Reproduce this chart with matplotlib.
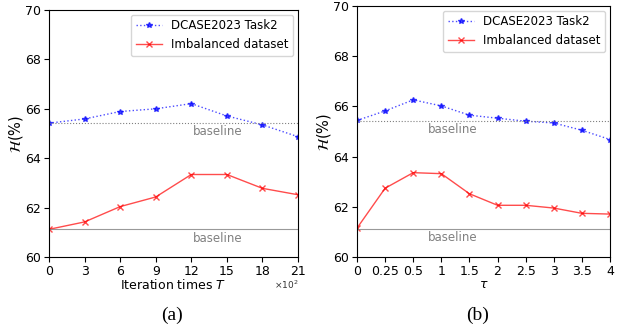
import numpy as np
import matplotlib
matplotlib.use("Agg")
import matplotlib.pyplot as plt

# (a) iteration times T (x100)
iters = [0, 3, 6, 9, 12, 15, 18, 21]
dcase_a = [65.42, 65.59, 65.89, 66.0, 66.21, 65.71, 65.35, 64.87]
imb_a = [61.12, 61.42, 62.04, 62.43, 63.34, 63.34, 62.78, 62.52]

# (b) tau (evenly spaced categories)
tau_labels = ["0", "0.25", "0.5", "1", "1.5", "2", "2.5", "3", "3.5", "4"]
dcase_b = [65.44, 65.82, 66.26, 66.02, 65.65, 65.53, 65.41, 65.34, 65.05, 64.68]
imb_b = [61.15, 62.74, 63.36, 63.32, 62.52, 62.06, 62.06, 61.95, 61.74, 61.71]

base_dcase = 65.43
base_imb = 61.13

fs = 9
plt.rcParams["font.size"] = fs
plt.rcParams["xtick.major.pad"] = 2
plt.rcParams["ytick.major.pad"] = 2.5

fig = plt.figure(figsize=(6.25, 3.33), dpi=100)
ax0 = fig.add_axes([49/625, 1-257/333, 249/625, 247/333])
ax1 = fig.add_axes([357/625, 1-257/333, 253/625, 251/333])


def draw(ax, x, dc, im, text_x):
    ax.plot(x, dc, color="b", linestyle=":", marker="*", markersize=4,
            linewidth=1, alpha=0.7, label="DCASE2023 Task2")
    ax.plot(x, im, color="r", linestyle="-", marker="x", markersize=4,
            linewidth=1, alpha=0.7, label="Imbalanced dataset")
    ax.axhline(base_dcase, color="gray", linestyle=":", linewidth=0.8)
    ax.axhline(base_imb, color="gray", linestyle="-", linewidth=0.8, alpha=0.8)
    ax.text(text_x, base_dcase - 0.1, "baseline", color="gray", ha="center",
            va="top", fontsize=8.5)
    ax.text(text_x, base_imb - 0.1, "baseline", color="gray", ha="center",
            va="top", fontsize=8.5)
    ax.set_ylim(60, 70)
    ax.set_yticks([60, 62, 64, 66, 68, 70])
    ax.set_ylabel(r"$\mathcal{H}(\%)$", fontsize=10.5, labelpad=0)
    ax.legend(loc="upper right", fontsize=8.5, borderaxespad=0.4,
              handlelength=2.2)


draw(ax0, iters, dcase_a, imb_a, 14.2)
ax0.set_xlim(0, 21)
ax0.set_xticks(iters)
ax0.set_xlabel("Iteration times $T$", labelpad=0)
fig.text(298/625, 1-285/333, r"$\times10^2$", ha="right", va="center",
         fontsize=6.5, color="#333333")

xb = np.arange(len(tau_labels))
draw(ax1, xb, dcase_b, imb_b, 3.4)
ax1.set_xlim(0, len(tau_labels) - 1)
ax1.set_xticks(xb)
ax1.set_xticklabels(tau_labels)
ax1.set_xlabel(r"$\tau$", labelpad=0)

fig.text(172/625, 1-315/333, "(a)", ha="center", va="center",
         family="Liberation Serif", fontsize=14)
fig.text(478/625, 1-315/333, "(b)", ha="center", va="center",
         family="Liberation Serif", fontsize=14)

fig.savefig("out.png", dpi=100)
